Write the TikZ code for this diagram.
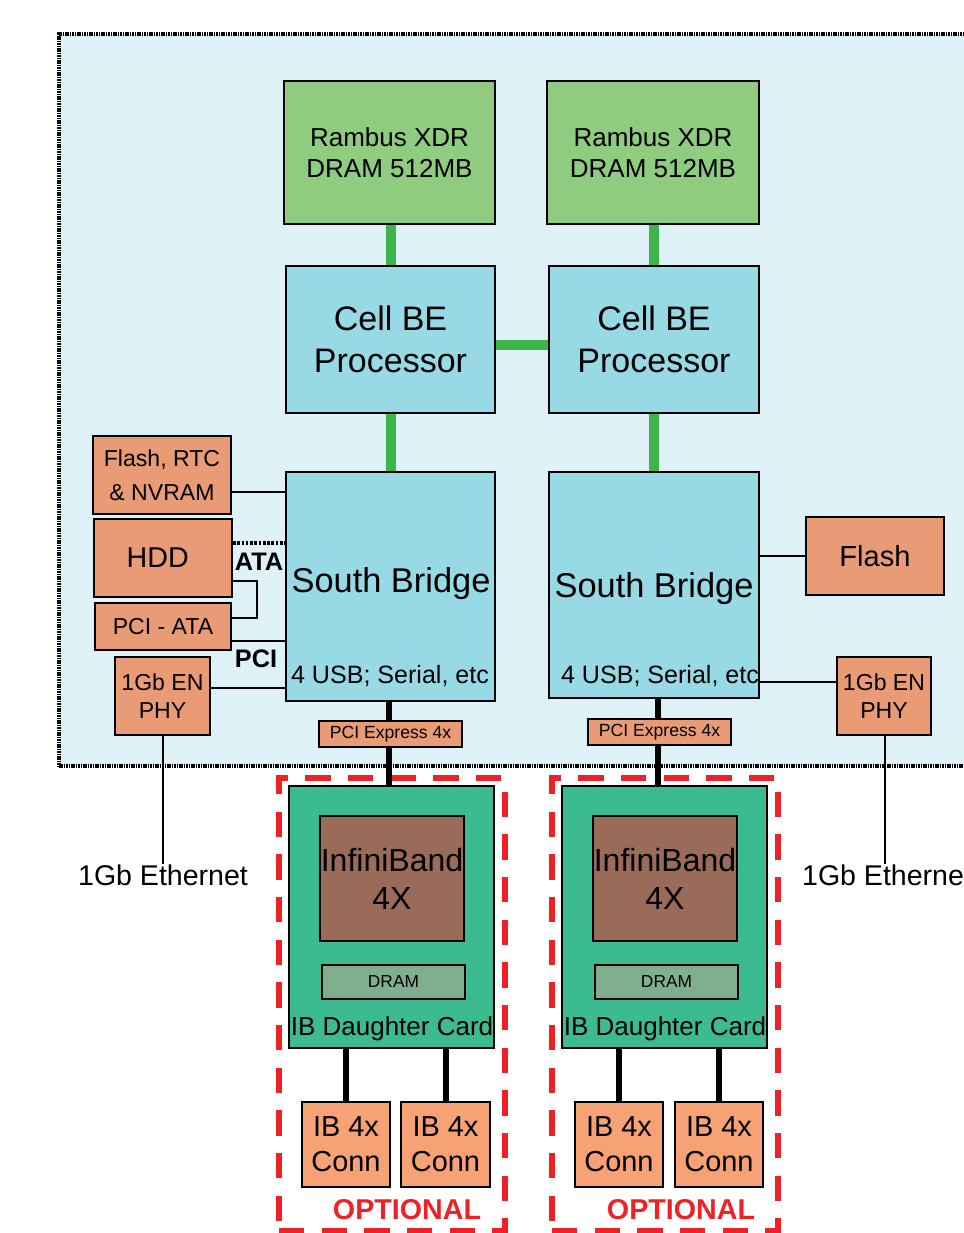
\documentclass[tikz,border=0pt]{standalone}
\usepackage{fontspec}
\setmainfont{Liberation Sans}
\usetikzlibrary{fit}
\definecolor{bgc}{HTML}{DDF1F6}
\definecolor{ramc}{HTML}{8FCC80}
\definecolor{cellc}{HTML}{97D9E4}
\definecolor{salc}{HTML}{E89B74}
\definecolor{connc}{HTML}{F6A274}
\definecolor{cardc}{HTML}{3BBB8F}
\definecolor{ibc}{HTML}{9A6B59}
\definecolor{dramc}{HTML}{80AF8F}
\definecolor{greenc}{HTML}{3DB54A}
\definecolor{redc}{HTML}{EE2226}
\begin{document}
\begin{tikzpicture}[x=0.75pt,y=-0.75pt,
  box/.style={draw=black, line width=1.5pt, inner sep=0pt},
  bgbox/.style={fill=bgc, draw=black, line width=2.6pt, dash pattern=on 1.2pt off 0.6pt, inner sep=0pt},
  optbox/.style={draw=redc, line width=4.5pt, dash pattern=on 19pt off 13pt, inner sep=0pt},
  gconn/.style={greenc, line width=7.5pt},
  bconn/.style={black, line width=2.2pt},
  tconn/.style={black, line width=1.5pt},
  kconn/.style={black, line width=4.5pt},
  lbl/.style={inner sep=0pt, align=center},
]
\clip (0,0) rectangle (964,1233);
\fill[white] (0,0) rectangle (964,1233);
\node[bgbox, fit={(59,34)(1000,766)}] (bg) {};

% top row
\node[box, fill=ramc, fit={(284,81)(495,224)}] (ram1) {};
\node[lbl, font=\fontsize{19.5}{23.3}\selectfont] (ram1t) at (ram1.center) {Rambus XDR\\DRAM 512MB};
\node[box, fill=ramc, fit={(547,81)(759,224)}] (ram2) {};
\node[lbl, font=\fontsize{19.5}{23.3}\selectfont] (ram2t) at (ram2.center) {Rambus XDR\\DRAM 512MB};
\node[box, fill=cellc, fit={(286,266)(495,413)}] (cell1) {};
\node[lbl, font=\fontsize{25.5}{31.5}\selectfont] (cell1t) at (cell1.center) {Cell BE\\Processor};
\node[box, fill=cellc, fit={(549,266)(759,413)}] (cell2) {};
\node[lbl, font=\fontsize{25.5}{31.5}\selectfont] (cell2t) at (cell2.center) {Cell BE\\Processor};
\node[box, fill=cellc, fit={(286,472)(495,701)}] (sb1) {};
\node[box, fill=cellc, fit={(549,472)(759,698)}] (sb2) {};
\node[lbl, font=\fontsize{25.8}{31}\selectfont] (sb1t) at (391,584) {South Bridge};
\node[lbl, font=\fontsize{25.8}{31}\selectfont] (sb2t) at (654,589) {South Bridge};
\node[lbl, font=\fontsize{18.8}{22}\selectfont] (sb1u) at (390,676) {4 USB; Serial, etc};
\node[lbl, font=\fontsize{18.8}{22}\selectfont] (sb2u) at (660,676) {4 USB; Serial, etc};

\draw[gconn] (ram1.south -| 391,0) -- (cell1.north -| 391,0);
\draw[gconn] (ram2.south -| 654,0) -- (cell2.north -| 654,0);
\draw[gconn] (cell1.east |- 0,345) -- (cell2.west |- 0,345);
\draw[gconn] (cell1.south -| 391,0) -- (sb1.north -| 391,0);
\draw[gconn] (cell2.south -| 654,0) -- (sb2.north -| 654,0);

% left peripherals
\node[box, fill=salc, fit={(93,436)(231,514)}] (frtc) {};
\node[lbl, font=\fontsize{17.3}{25.5}\selectfont] (frtct) at (frtc.center) {Flash, RTC\\\& NVRAM};
\node[box, fill=salc, fit={(94,519)(232,597)}] (hdd) {};
\node[lbl, font=\fontsize{21.5}{26}\selectfont] (hddt) at ([xshift=-4]hdd.center) {HDD};
\node[box, fill=salc, fit={(95,603)(231,650)}] (pciata) {};
\node[lbl, font=\fontsize{17.3}{21}\selectfont] (pciatat) at (pciata.center) {PCI - ATA};
\node[box, fill=salc, fit={(115,657)(210,735)}] (en1) {};
\node[lbl, font=\fontsize{17.3}{21}\selectfont] (en1t) at (en1.center) {1Gb EN\\PHY};

\draw[bconn] (frtc.east |- 0,492) -- (sb1.west |- 0,492);
\draw[black, line width=3pt, dash pattern=on 2pt off 1.2pt] (hdd.east |- 0,543) -- (sb1.west |- 0,543);
\draw[bconn] (hdd.east |- 0,581) -| (257,618) -- (pciata.east |- 0,618);
\draw[bconn] (pciata.east |- 0,641) -- (sb1.west |- 0,641);
\draw[tconn] (en1.east |- 0,688) -- (sb1.west |- 0,688);
\node[lbl, font=\bfseries\fontsize{19}{22}\selectfont] (atal) at (259,562) {ATA};
\node[lbl, font=\bfseries\fontsize{19}{22}\selectfont] (pcil) at (256,659) {PCI};

\node[lbl, font=\fontsize{21.4}{26}\selectfont] (eth1) at (163,875) {1Gb Ethernet};
\draw[tconn] (en1.south -| 163,0) -- (eth1.north -| 163,0);

% right peripherals
\node[box, fill=salc, fit={(806,517)(944,595)}] (flash2) {};
\node[lbl, font=\fontsize{21.8}{26}\selectfont] (flash2t) at (flash2.center) {Flash};
\node[box, fill=salc, fit={(837,657)(931,735)}] (en2) {};
\node[lbl, font=\fontsize{17.3}{21}\selectfont] (en2t) at (en2.center) {1Gb EN\\PHY};
\draw[bconn] (sb2.east |- 0,556) -- (flash2.west |- 0,556);
\draw[tconn] (sb2.east |- 0,682) -- (en2.west |- 0,682);
\node[lbl, font=\fontsize{21.4}{26}\selectfont] (eth2) at (887,875) {1Gb Ethernet};
\draw[tconn] (en2.south -| 885,0) -- (eth2.north -| 885,0);

% optional groups
\node[optbox, fit={(279,778)(505,1231)}] (opt1) {};
\node[optbox, fit={(552,778)(778,1231)}] (opt2) {};
\node[lbl, text=redc, font=\bfseries\fontsize{21.5}{26}\selectfont] (optl1) at (407,1210) {OPTIONAL};
\node[lbl, text=redc, font=\bfseries\fontsize{21.5}{26}\selectfont] (optl2) at (681,1210) {OPTIONAL};

% PCIe boxes
\node[box, fill=salc, fit={(319,721)(462,747)}] (pcie1) {};
\node[lbl, font=\fontsize{13.2}{16}\selectfont] (pcie1t) at (pcie1.center) {PCI Express 4x};
\node[box, fill=salc, fit={(588,719)(731,745)}] (pcie2) {};
\node[lbl, font=\fontsize{13.2}{16}\selectfont] (pcie2t) at (pcie2.center) {PCI Express 4x};

% IB cards
\node[box, fill=cardc, fit={(289,786)(494,1048)}] (card1) {};
\node[box, fill=cardc, fit={(562,786)(767,1048)}] (card2) {};
\node[box, fill=ibc, fit={(320,816)(464,941)}] (ib1) {};
\node[lbl, font=\fontsize{24}{28.5}\selectfont] (ib1t) at (ib1.center) {InfiniBand\\4X};
\node[box, fill=ibc, fit={(593,816)(737,941)}] (ib2) {};
\node[lbl, font=\fontsize{24}{28.5}\selectfont] (ib2t) at (ib2.center) {InfiniBand\\4X};
\node[box, fill=dramc, fit={(322,965)(465,999)}] (dram1) {};
\node[lbl, font=\fontsize{13}{16}\selectfont] (dram1t) at (dram1.center) {DRAM};
\node[box, fill=dramc, fit={(595,965)(738,999)}] (dram2) {};
\node[lbl, font=\fontsize{13}{16}\selectfont] (dram2t) at (dram2.center) {DRAM};
\node[lbl, font=\fontsize{19.5}{24}\selectfont] (cardl1) at (392,1029) {IB Daughter Card};
\node[lbl, font=\fontsize{19.5}{24}\selectfont] (cardl2) at (665,1029) {IB Daughter Card};

\draw[kconn] (sb1.south -| 389,0) -- (pcie1.north -| 389,0);
\draw[kconn] (pcie1.south -| 389,0) -- (card1.north -| 389,0);
\draw[kconn] (sb2.south -| 658,0) -- (pcie2.north -| 658,0);
\draw[kconn] (pcie2.south -| 658,0) -- (card2.north -| 658,0);

% connectors
\node[box, fill=connc, fit={(302,1102)(390,1187)}] (c1a) {};
\node[lbl, font=\fontsize{21.7}{26.3}\selectfont] (c1at) at (c1a.center) {IB 4x\\Conn};
\node[box, fill=connc, fit={(401,1102)(490,1187)}] (c1b) {};
\node[lbl, font=\fontsize{21.7}{26.3}\selectfont] (c1bt) at (c1b.center) {IB 4x\\Conn};
\node[box, fill=connc, fit={(575,1102)(663,1187)}] (c2a) {};
\node[lbl, font=\fontsize{21.7}{26.3}\selectfont] (c2at) at (c2a.center) {IB 4x\\Conn};
\node[box, fill=connc, fit={(675,1102)(763,1187)}] (c2b) {};
\node[lbl, font=\fontsize{21.7}{26.3}\selectfont] (c2bt) at (c2b.center) {IB 4x\\Conn};
\draw[kconn] (card1.south -| c1a.north) -- (c1a.north);
\draw[kconn] (card1.south -| c1b.north) -- (c1b.north);
\draw[kconn] (card2.south -| c2a.north) -- (c2a.north);
\draw[kconn] (card2.south -| c2b.north) -- (c2b.north);
\end{tikzpicture}
\end{document}
